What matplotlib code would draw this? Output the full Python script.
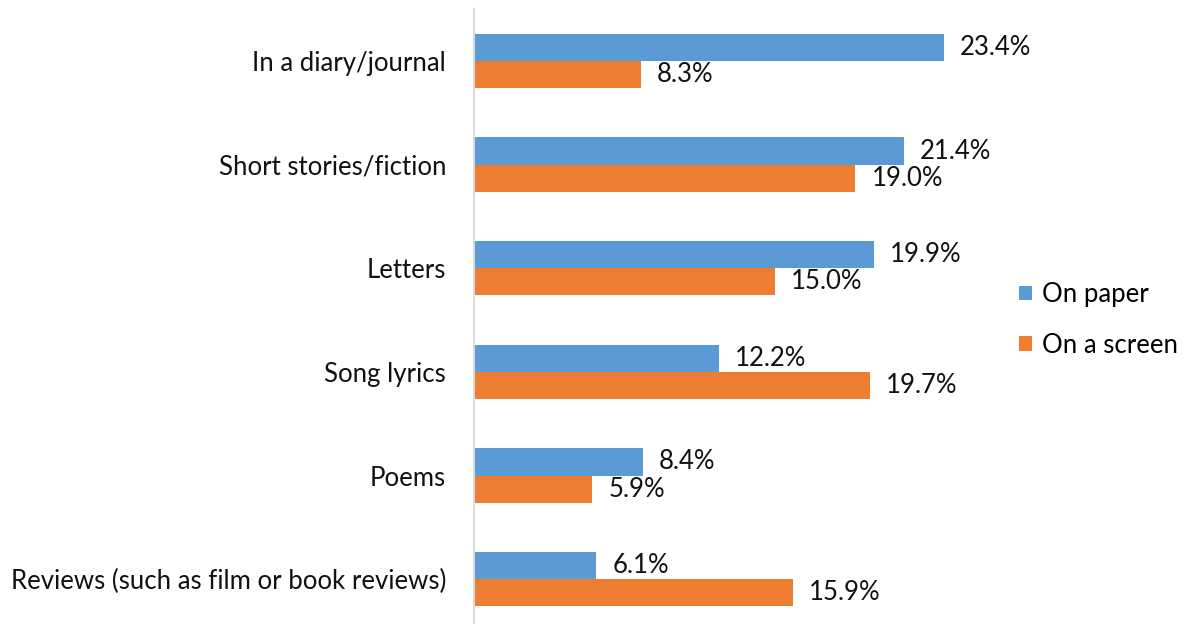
import numpy as np
import matplotlib.pyplot as plt

categories = ["In a diary/journal", "Short stories/fiction", "Letters",
              "Song lyrics", "Poems", "Reviews (such as film or book reviews)"]
on_paper = [23.4, 21.4, 19.9, 12.2, 8.4, 6.1]
on_screen = [8.3, 19.0, 15.0, 19.7, 5.9, 15.9]

plt.rcParams['font.family'] = ['Lato', 'DejaVu Sans']

W, H = 1185, 624
fig = plt.figure(figsize=(W / 100, H / 100), dpi=100)
# axes placed in pixel terms
left, right, top, bottom = 474, 996, 9.2, 631
ax = fig.add_axes([left / W, 1 - bottom / H, (right - left) / W, (bottom - top) / H])

y = np.arange(len(categories))
h = 0.262
blue = "#5b9bd5"
orange = "#ed7d31"
fs = 18.5

b1 = ax.barh(y - h / 2, on_paper, height=h, color=blue, label="On paper")
b2 = ax.barh(y + h / 2, on_screen, height=h, color=orange, label="On a screen")

for bars, vals in ((b1, on_paper), (b2, on_screen)):
    for bar, v in zip(bars, vals):
        ax.annotate(f"{v:.1f}%", (bar.get_width(), bar.get_y() + bar.get_height() / 2),
                    xytext=(16, 0), textcoords="offset pixels",
                    ha="left", va="center", fontsize=fs, color="#111111")

ax.set_xlim(0, 26)
ax.set_ylim(len(categories) - 0.5, -0.5)
ax.set_yticks(y)
ax.set_yticklabels(categories, fontsize=fs, color="#111111")
ax.tick_params(axis="y", length=0, pad=20)
ax.set_xticks([])
for s in ("top", "right", "bottom"):
    ax.spines[s].set_visible(False)
ax.spines["left"].set_color("#d9d9d9")
ax.spines["left"].set_linewidth(1.5)

fig.legend(handles=[b1, b2], loc="center left", bbox_to_anchor=(1009 / W, 1 - 320 / H),
           frameon=False, fontsize=fs, handlelength=0.5, handleheight=0.5,
           handletextpad=0.4, labelspacing=1.0, borderaxespad=0)

fig.savefig("out.png", dpi=100)
